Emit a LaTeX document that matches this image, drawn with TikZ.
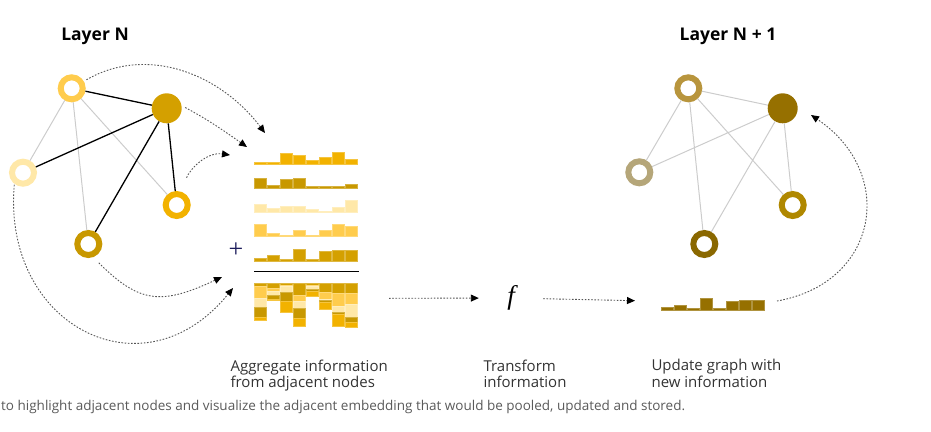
\documentclass[tikz,border=0pt]{standalone}
\usepackage{fontspec}
\setmainfont{Open Sans}
\newfontfamily\symfont{Liberation Serif}
\usepackage{xcolor}
\usepackage{tikz}
\usetikzlibrary{positioning,arrows.meta}
\definecolor{ink}{HTML}{333333}
\definecolor{note}{HTML}{5A5A5A}
\definecolor{edgegray}{HTML}{CCCCCC}
\definecolor{flowgray}{HTML}{555555}
\definecolor{plusblue}{HTML}{1C1C5C}
\definecolor{goldA}{HTML}{FFCC4D}
\definecolor{goldB}{HTML}{D4A000}
\definecolor{goldC}{HTML}{FFE8A8}
\definecolor{goldD}{HTML}{F2B200}
\definecolor{goldE}{HTML}{C89800}
\definecolor{newA}{HTML}{B8953D}
\definecolor{newB}{HTML}{967000}
\definecolor{newC}{HTML}{B5A679}
\definecolor{newD}{HTML}{B08800}
\definecolor{newE}{HTML}{8A6800}
% embedding of each node, one value per bar
\def\hA{{12.7,3,1,6.3,1,6.3,12.7,10.7}}
\def\hB{{3,5.3,2,12,2,9.7,10.7,10.7}}
\def\hC{{8.7,4.3,6.7,6.7,3.3,1,5.7,12.7}}
\def\hD{{2.5,1.7,11,8.7,4.3,7.3,12.3,5.3}}
\def\hE{{10,3.3,9,10,2.3,2.3,2.3,4.7}}
\newcommand{\embed}[4]{% left x, bottom y, colour, heights
  \foreach \i in {0,...,7}{
    \pgfmathsetmacro\h{#4[\i]}
    \path[histbar=#3] (#1+13*\i,#2) rectangle ++(12,-\h);}}

\begin{document}
\begin{tikzpicture}[x=1pt,y=-1pt,every node/.style={font=\fontsize{15}{16.4}\selectfont,text=ink},
    ring/.style={circle,draw=#1,line width=6pt,fill=white,minimum size=22pt,inner sep=0pt},
    hub/.style={circle,fill=#1,minimum size=30pt,inner sep=0pt},
    histbar/.style={fill=#1,draw=#1!75!white,line width=.5pt},
    title/.style={font=\fontsize{17.5}{20}\selectfont\bfseries,text=black},
    caption/.style={anchor=north west,align=left},
    nbr/.style={line width=1.3pt,black},
    rest/.style={line width=1pt,edgegray},
    flow/.style={line width=.9pt,flowgray,dash pattern=on 1.6pt off 1.6pt,
      -{Triangle[length=8pt,width=7pt,color=black]}}]
    \useasboundingbox (0,0) rectangle (931,431);
    % layer N
    \node[title] (tN) at (95,36) {Layer N};
    \node[ring=goldA] (nA) at (71.7,88.3) {};
    \node[hub=goldB] (nB) at (166.7,108.3) {};
    \node[ring=goldC] (nC) at (23,172.7) {};
    \node[ring=goldD] (nD) at (176.7,205) {};
    \node[ring=goldE] (nE) at (88.3,244) {};
    \draw[rest] (nA)--(nC) (nA)--(nE) (nA)--(nD);
    \draw[nbr] (nA)--(nB) (nC)--(nB) (nE)--(nB) (nD)--(nB);
    % adjacent embeddings
    \embed{254}{164.3}{goldD}{\hD}
    \embed{254}{188.7}{goldE}{\hE}
    \embed{254}{212.7}{goldC}{\hC}
    \embed{254}{236.7}{goldA}{\hA}
    \embed{254}{261}{goldB}{\hB}
    \node[text=plusblue,font=\fontsize{26}{26}\selectfont\symfont] (plus) at (236,250) {+};
    \draw[line width=1.2pt,black] (254,271.5) -- (359,271.5);
    \foreach \i in {0,...,7}{
      \pgfmathsetmacro\ya{283+\hB[\i]}
      \pgfmathsetmacro\yb{\ya+\hA[\i]}
      \pgfmathsetmacro\yc{\yb+\hC[\i]}
      \pgfmathsetmacro\yd{\yc+\hE[\i]}
      \pgfmathsetmacro\ye{\yd+\hD[\i]}
      \path[histbar=goldB] (254+13*\i,283) rectangle (266+13*\i,\ya);
      \path[histbar=goldA] (254+13*\i,\ya) rectangle (266+13*\i,\yb);
      \path[histbar=goldC] (254+13*\i,\yb) rectangle (266+13*\i,\yc);
      \path[histbar=goldE] (254+13*\i,\yc) rectangle (266+13*\i,\yd);
      \path[histbar=goldD] (254+13*\i,\yd) rectangle (266+13*\i,\ye);
    }
    \coordinate (inA) at (265,133);
    \coordinate (inB) at (247,147);
    \coordinate (inD) at (230,155);
    \coordinate (inE) at (222,277);
    \coordinate (inC) at (233,288);
    \coordinate (aggR) at (389,298.3);
    \draw[flow,shorten <=3pt] (nA) to[out=30,in=127] (inA);
    \draw[flow,shorten <=4pt] (nB.10) to[out=-28,in=145] (inB);
    \draw[flow,shorten <=15pt] (nD) to[out=70,in=172] (inD);
    \draw[flow,shorten <=8pt] (nE.-70) to[out=-45,in=205,looseness=1.3] (inE);
    \draw[flow,shorten <=1pt] (nC.-128) to[out=-95,in=231,looseness=1.5] (inC);
    % transform
    \node[minimum width=64pt,text=black,font=\fontsize{27}{27}\selectfont\symfont\itshape] (fn) at (511,298) {f};
    \coordinate (updL) at (635,300.7);
    \coordinate (updR) at (777,301);
    \draw[flow] (aggR) -- (fn);
    \draw[flow] (fn) -- (updL);
    % layer N + 1
    \node[title] (tN1) at (728,36) {Layer N + 1};
    \node[ring=newA] (mA) at (688.3,88.3) {};
    \node[hub=newB] (mB) at (782.7,108.3) {};
    \node[ring=newC] (mC) at (639.3,172.3) {};
    \node[ring=newD] (mD) at (792.7,205) {};
    \node[ring=newE] (mE) at (704.3,244) {};
    \draw[rest] (mA)--(mB) (mA)--(mC) (mA)--(mE) (mA)--(mD) (mC)--(mB) (mE)--(mB) (mD)--(mB);
    \embed{661}{310.7}{newB}{\hB}
    \coordinate (inM) at (811,115);
    \draw[flow] (updR) to[out=10,in=-34,looseness=1.4] (inM);
    % steps
    \node[caption] (aggtext) at (227,356) {Aggregate information\\from adjacent nodes};
    \node[caption] (tftext) at (480,356) {Transform\\information};
    \node[caption] (updtext) at (648,356) {Update graph with\\new information};
    \node[anchor=west,inner sep=0pt,text=note,font=\fontsize{13.5}{16}\selectfont] (cap) at (1,407)
      {to highlight adjacent nodes and visualize the adjacent embedding that would be pooled, updated and stored.};
  \end{tikzpicture}
\end{document}
